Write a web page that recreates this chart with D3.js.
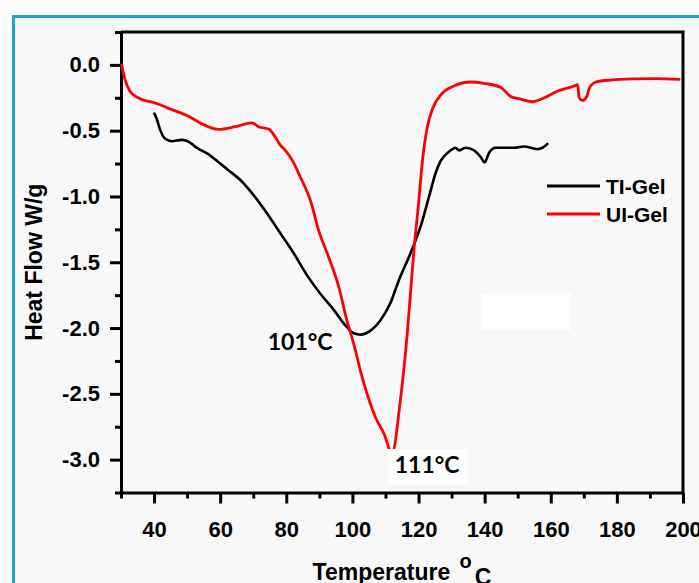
<!DOCTYPE html>
<html>
<head>
<meta charset="utf-8">
<script src="https://cdn.jsdelivr.net/npm/d3@7"></script>
<style>
  body { margin: 0; background: #fff; }
  svg { display: block; }
</style>
</head>
<body>
<svg id="chart" width="699" height="583"></svg>
<script>
// TI-Gel (black) curve
const tiTemp = [40.1, 40.8, 41.8, 43.3, 45.4, 48.4, 50.9, 52.9, 56.5, 59.5, 62.5, 66.1, 70.1, 74.2, 78.2, 82.2, 86.3, 90.3, 94.3, 97.9, 100.4, 102.4, 105.5, 108.5, 111.5, 114, 117.6, 120.6, 123.2, 125.2, 126.7, 129.2, 131.2, 132.2, 134.2, 136.8, 138.8, 140, 141.3, 143.3, 145.8, 148.9, 151.9, 155.9, 157.5, 159];
const tiFlow = [-0.37, -0.41, -0.49, -0.56, -0.58, -0.57, -0.59, -0.63, -0.68, -0.74, -0.80, -0.875, -0.99, -1.13, -1.28, -1.43, -1.60, -1.74, -1.86, -1.98, -2.04, -2.05, -2.02, -1.94, -1.81, -1.64, -1.43, -1.23, -1.00, -0.82, -0.73, -0.66, -0.63, -0.65, -0.63, -0.65, -0.70, -0.74, -0.67, -0.63, -0.63, -0.63, -0.62, -0.64, -0.63, -0.60];

// UI-Gel (red) curve
const uiTemp = [30.2, 31.2, 32.7, 35.2, 40.3, 45.4, 50.4, 55.5, 59.5, 64.5, 69.6, 71.6, 74.8, 76.7, 78.2, 79.7, 81.7, 84.2, 87.3, 89.8, 92.8, 95.9, 98.4, 100.4, 102.9, 107, 109.5, 112, 114.5, 116.6, 118.6, 120.1, 121.1, 122.6, 124.3, 127, 130.7, 135.8, 139.8, 144.8, 147.9, 150.9, 154.5, 158, 162, 167.1, 168.1, 168.6, 169.6, 170.9, 171.6, 173.6, 178, 185, 192, 198.8];
const uiFlow = [0.0, -0.11, -0.20, -0.25, -0.29, -0.34, -0.39, -0.46, -0.49, -0.47, -0.44, -0.47, -0.49, -0.55, -0.61, -0.65, -0.72, -0.85, -1.03, -1.26, -1.46, -1.69, -1.95, -2.12, -2.37, -2.68, -2.80, -2.95, -2.55, -2.04, -1.41, -1.03, -0.75, -0.48, -0.33, -0.22, -0.16, -0.13, -0.14, -0.17, -0.24, -0.26, -0.28, -0.25, -0.20, -0.16, -0.15, -0.25, -0.27, -0.24, -0.18, -0.13, -0.115, -0.107, -0.105, -0.11];

const xTicks = [40, 60, 80, 100, 120, 140, 160, 180, 200];
const xMinor = [30, 50, 70, 90, 110, 130, 150, 170, 190];
const yTicks = [0.0, -0.5, -1.0, -1.5, -2.0, -2.5, -3.0];
const yMinor = [0.25, -0.25, -0.75, -1.25, -1.75, -2.25, -2.75, -3.25];

const seriesNames = ["TI-Gel", "UI-Gel"];
const seriesColors = ["#000000", "#ff0000"];
const peakLabels = [{ t: 101, v: -2.05, text: "101°C" }, { t: 111, v: -2.95, text: "111°C" }];

const PLOT = { left: 121, right: 683, top: 32, bottom: 492.5 };
const AXIS_FONT = "'Liberation Sans', Arial, sans-serif";

const svg = d3.select("#chart");

// outer frame
svg.append("rect").attr("width", 699).attr("height", 583).attr("fill", "#fff");
svg.append("rect")
  .attr("x", 13.5).attr("y", 16.5)
  .attr("width", 720).attr("height", 620)
  .attr("fill", "#f8f8f8")
  .attr("stroke", "#1d9fe0")
  .attr("stroke-width", 3);

const x = d3.scaleLinear().domain([30, 200]).range([PLOT.left, PLOT.right]);
const y = d3.scaleLinear().domain([-3.25, 0.25]).range([PLOT.bottom, PLOT.top]);

// box top/right
svg.append("path")
  .attr("d", `M${PLOT.left},${PLOT.top}H${PLOT.right}V${PLOT.bottom}`)
  .attr("fill", "none").attr("stroke", "#000").attr("stroke-width", 3);

// minor ticks
svg.append("g")
  .attr("transform", `translate(0,${PLOT.bottom})`)
  .call(d3.axisBottom(x).tickValues(xMinor).tickSize(6).tickSizeOuter(0).tickFormat(""))
  .call(g => g.select(".domain").remove())
  .call(g => g.selectAll("line").attr("stroke-width", 3));

svg.append("g")
  .attr("transform", `translate(${PLOT.left},0)`)
  .call(d3.axisLeft(y).tickValues(yMinor).tickSize(6).tickSizeOuter(0).tickFormat(""))
  .call(g => g.select(".domain").remove())
  .call(g => g.selectAll("line").attr("stroke-width", 3));

// major axes
const xAxis = svg.append("g")
  .attr("transform", `translate(0,${PLOT.bottom})`)
  .call(d3.axisBottom(x).tickValues(xTicks).tickSize(11).tickSizeOuter(0).tickPadding(18).tickFormat(d3.format("d")));

const yAxis = svg.append("g")
  .attr("transform", `translate(${PLOT.left},0)`)
  .call(d3.axisLeft(y).tickValues(yTicks).tickSize(11).tickSizeOuter(0).tickPadding(10).tickFormat(d3.format(".1f")));

[xAxis, yAxis].forEach(g => {
  g.select(".domain").attr("stroke-width", 3);
  g.selectAll("line").attr("stroke-width", 3);
  g.selectAll("text")
    .attr("font-family", AXIS_FONT)
    .attr("font-weight", "bold")
    .attr("font-size", 22)
    .attr("fill", "#000");
});
yAxis.selectAll("text").text(d => d3.format(".1f")(d).replace("−", "-"));

// axis titles
svg.append("text")
  .attr("transform", `translate(42,${(PLOT.top + PLOT.bottom) / 2}) rotate(-90)`)
  .attr("text-anchor", "middle")
  .attr("font-family", AXIS_FONT).attr("font-weight", "bold").attr("font-size", 23)
  .text("Heat Flow W/g");

const xTitle = svg.append("text")
  .attr("x", (PLOT.left + PLOT.right) / 2)
  .attr("y", 580)
  .attr("text-anchor", "middle")
  .attr("font-family", AXIS_FONT).attr("font-weight", "bold").attr("font-size", 23);
xTitle.append("tspan").text("Temperature ");
xTitle.append("tspan").attr("dx", 3).attr("dy", -12).attr("font-size", 20).text("o");
xTitle.append("tspan").attr("dx", 3).attr("dy", 17).text("C");

// lines
const line = d3.line().x(d => x(d[0])).y(d => y(d[1]));
const tiData = d3.zip(tiTemp, tiFlow);
const uiData = d3.zip(uiTemp, uiFlow);

svg.append("path")
  .datum(tiData)
  .attr("fill", "none")
  .attr("stroke", seriesColors[0])
  .attr("stroke-width", 2.6)
  .attr("stroke-linejoin", "round")
  .attr("stroke-linecap", "round")
  .attr("d", line.curve(d3.curveMonotoneX));

svg.append("path")
  .datum(uiData)
  .attr("fill", "none")
  .attr("stroke", seriesColors[1])
  .attr("stroke-width", 2.8)
  .attr("stroke-linejoin", "round")
  .attr("stroke-linecap", "round")
  .attr("d", line.curve(d3.curveMonotoneX));

// empty white patch in the picture
svg.append("rect")
  .attr("x", 481).attr("y", 293).attr("width", 90).attr("height", 37)
  .attr("fill", "#fff");

// peak annotations
svg.append("rect")
  .attr("x", x(peakLabels[1].t) - 1).attr("y", y(peakLabels[1].v) - 4)
  .attr("width", 80).attr("height", 36)
  .attr("fill", "#fff");

svg.selectAll(".peak")
  .data(peakLabels)
  .join("text")
  .attr("class", "peak")
  .attr("x", (d, i) => i === 0 ? x(d.t) - 88 : x(d.t) + 6)
  .attr("y", (d, i) => i === 0 ? y(d.v) + 15 : y(d.v) + 20)
  .attr("font-family", "Lato, 'Open Sans', sans-serif")
  .attr("font-weight", "bold")
  .attr("font-size", 23)
  .attr("fill", "#000")
  .text(d => d.text);

// legend
const legend = svg.append("g").attr("transform", "translate(547,186)");
seriesNames.forEach((name, i) => {
  const row = legend.append("g").attr("transform", `translate(0,${i * 28})`);
  row.append("line")
    .attr("x1", 0).attr("x2", 53)
    .attr("stroke", seriesColors[i]).attr("stroke-width", 3);
  row.append("text")
    .attr("x", 59).attr("y", 8)
    .attr("font-family", AXIS_FONT).attr("font-weight", "bold").attr("font-size", 21)
    .text(name);
});
</script>
</body>
</html>
